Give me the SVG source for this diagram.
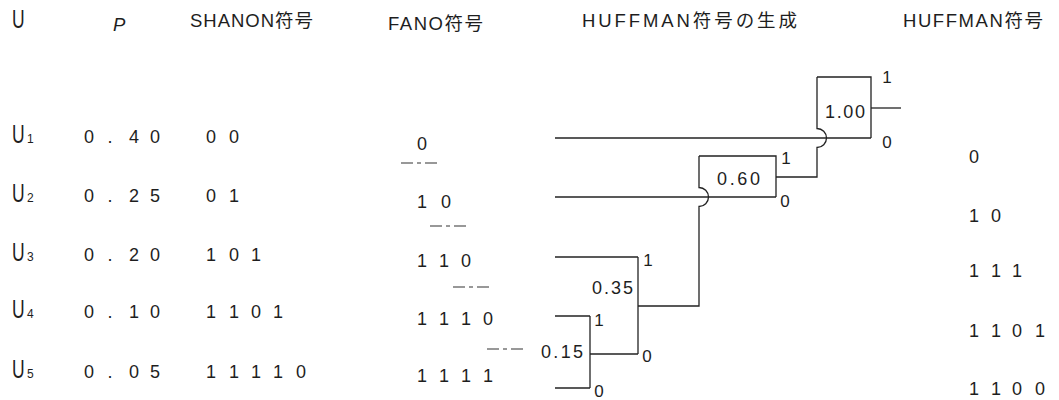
<svg xmlns="http://www.w3.org/2000/svg" width="1059" height="400" viewBox="0 0 1059 400">
<style>
text{font-family:"Liberation Sans","Noto Sans CJK JP",sans-serif;fill:#1e1e1e}
.h{font-size:18.5px}
.d{font-size:18px;text-anchor:middle}
.u{font-size:25px}
.s{font-size:12px}
.n{font-size:18px}
.l{font-size:17px;text-anchor:middle}
.ln{fill:none;stroke:#222;stroke-width:1.3}
.dash{fill:none;stroke:#333;stroke-width:1.1;stroke-dasharray:12 4 4 4}
</style>
<rect width="1059" height="400" fill="#fff"/>
<g id="headers">
<text class="u" transform="translate(12,28) scale(0.7,1)">U</text>
<text class="h" x="113" y="31" font-style="italic" font-family="Liberation Serif">P</text>
<text class="h" x="190" y="27" textLength="123" lengthAdjust="spacing">SHANON符号</text>
<text class="h" x="388" y="30" textLength="95" lengthAdjust="spacing">FANO符号</text>
<text class="h" x="582" y="27" textLength="215" lengthAdjust="spacing">HUFFMAN符号の生成</text>
<text class="h" x="903" y="27" textLength="140" lengthAdjust="spacing">HUFFMAN符号</text>
</g>
<g id="row-u1">
<text class="u" transform="translate(12,143) scale(0.7,1)">U</text><text class="s" x="27" y="143">1</text>
<text class="d" x="89 110 134 155" y="143">0.40</text>
<text class="d" x="211 234" y="143">00</text>
<text class="d" x="422" y="150">0</text>
<text class="d" x="974" y="163">0</text>
</g>
<g id="row-u2">
<text class="u" transform="translate(12,202) scale(0.7,1)">U</text><text class="s" x="27" y="202">2</text>
<text class="d" x="89 110 134 155" y="202">0.25</text>
<text class="d" x="211 234" y="202">01</text>
<text class="d" x="422 446" y="208">10</text>
<text class="d" x="974 996" y="222">10</text>
</g>
<g id="row-u3">
<text class="u" transform="translate(12,261) scale(0.7,1)">U</text><text class="s" x="27" y="261">3</text>
<text class="d" x="89 110 134 155" y="261">0.20</text>
<text class="d" x="211 234 256" y="261">101</text>
<text class="d" x="422 444 466" y="267">110</text>
<text class="d" x="974 996 1017" y="277">111</text>
</g>
<g id="row-u4">
<text class="u" transform="translate(12,318) scale(0.7,1)">U</text><text class="s" x="27" y="318">4</text>
<text class="d" x="89 110 134 155" y="318">0.10</text>
<text class="d" x="211 234 256 278" y="318">1101</text>
<text class="d" x="422 444 466 488" y="325">1110</text>
<text class="d" x="974 996 1017 1040" y="337">1101</text>
</g>
<g id="row-u5">
<text class="u" transform="translate(12,378) scale(0.7,1)">U</text><text class="s" x="27" y="378">5</text>
<text class="d" x="89 110 134 155" y="378">0.05</text>
<text class="d" x="211 234 256 278 301" y="378">11110</text>
<text class="d" x="422 444 466 488" y="382">1111</text>
<text class="d" x="974 996 1017 1040" y="395">1100</text>
</g>
<g id="fano-splits">
<path class="dash" d="M401,163H437M430,226H466M453,287H489M487,349H525"/>
</g>
<g id="node-100">
<path class="ln" d="M817,77H871V138"/>
<text class="n" x="825" y="118" textLength="40" lengthAdjust="spacing">1.00</text>
<text class="l" x="887" y="83">1</text>
<text class="l" x="887" y="148">0</text>
</g>
<g id="node-060">
<path class="ln" d="M699,156H776V197"/>
<text class="n" x="717" y="185" textLength="43" lengthAdjust="spacing">0.60</text>
<text class="l" x="786" y="164">1</text>
<text class="l" x="785" y="207">0</text>
</g>
<g id="node-035">
<path class="ln" d="M638,257V354"/>
<text class="n" x="592" y="294" textLength="41" lengthAdjust="spacing">0.35</text>
<text class="l" x="648" y="266">1</text>
<text class="l" x="647" y="362">0</text>
</g>
<g id="node-015">
<path class="ln" d="M590,316V388"/>
<text class="n" x="541" y="358" textLength="42" lengthAdjust="spacing">0.15</text>
<text class="l" x="599" y="326">1</text>
<text class="l" x="599" y="397">0</text>
</g>
<g id="connectors">
<path class="ln" d="M555,138H871"/>
<path class="ln" d="M555,197H776"/>
<path class="ln" d="M555,257H638"/>
<path class="ln" d="M555,316H590"/>
<path class="ln" d="M555,388H590"/>
<path class="ln" d="M590,354H638"/>
<path class="ln" d="M638,306H699V206.5A9.5,9.5 0 0 0 699,187.5V156"/>
<path class="ln" d="M776,177H817V147.5A9.5,9.5 0 0 0 817,128.5V77"/>
<path class="ln" d="M871,108H901"/>
</g>
</svg>
